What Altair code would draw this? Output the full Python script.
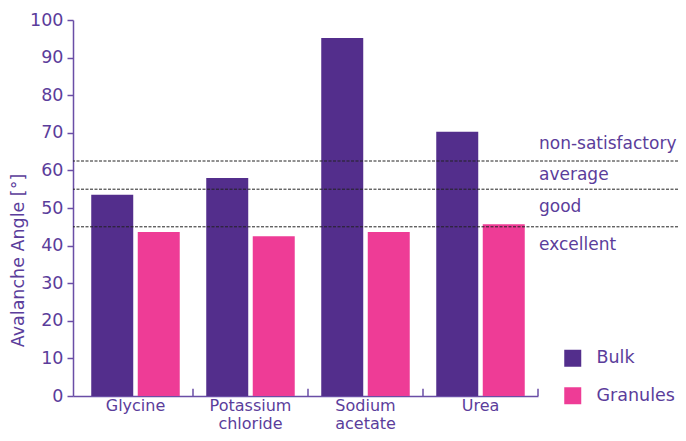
import altair as alt
import pandas as pd

categories = ["Glycine", "Potassium chloride", "Sodium acetate", "Urea"]
bulk = [53.5, 58.0, 95.2, 70.3]
granules = [43.6, 42.5, 43.6, 45.7]
series = ["Bulk", "Granules"]
colors = ["#532e8c", "#ee3c96"]
y_ticks = [0, 10, 20, 30, 40, 50, 60, 70, 80, 90, 100]

thresholds = [62.5, 55.0, 45.0]
class_labels = ["non-satisfactory", "average", "good", "excellent"]
class_label_pos = [67.0, 58.7, 50.2, 40.1]

FONT = "DejaVu Sans"
TXT = "#5b3d9b"
AX = "#6a4ea6"
FS = 17.5

rows = []
for c, b, g in zip(categories, bulk, granules):
    rows.append({"cat": c, "series": "Bulk", "v": b})
    rows.append({"cat": c, "series": "Granules", "v": g})
df = pd.DataFrame(rows)

W, H = 605, 376

xscale = alt.Scale(domain=categories, range=[0, 465], paddingInner=0, paddingOuter=0.0217, align=1)
yscale = alt.Scale(domain=[0, 100], nice=False)

xaxis = alt.Axis(title=None, ticks=False, labelExpr="split(datum.label, ' ')",
                 labelAngle=0, labelFont=FONT, labelFontSize=16, labelColor=TXT,
                 labelLineHeight=18.7, labelPadding=1, domainColor=AX, domainWidth=1.5,
                 labelBaseline="top")
yaxis = alt.Axis(title="Avalanche Angle [°]", values=y_ticks,
                 grid=False, tickSize=6, tickColor=AX, tickWidth=1.5,
                 domainColor=AX, domainWidth=1.5, labelPadding=4, labelOverlap=False,
                 labelFont=FONT, labelFontSize=FS, labelColor=TXT,
                 titleFont=FONT, titleFontSize=FS, titleColor=TXT, titleFontWeight="normal",
                 titleAngle=-90, titleX=-55, titleY=240, titleAlign="center",
                 titleBaseline="middle")

bars = alt.Chart(df).mark_bar().encode(
    x=alt.X("cat:N", scale=xscale, sort=categories, axis=xaxis),
    xOffset=alt.XOffset("series:N", scale=alt.Scale(domain=series, paddingInner=0.097, paddingOuter=0.285)),
    y=alt.Y("v:Q", scale=yscale, axis=yaxis),
    color=alt.Color("series:N", scale=alt.Scale(domain=series, range=colors),
                    legend=alt.Legend(title=None, orient="none", legendX=491, legendY=329.5,
                                      symbolType="square", symbolSize=289, symbolStrokeWidth=0,
                                      labelFont=FONT, labelFontSize=FS, labelColor=TXT,
                                      labelOffset=15, rowPadding=18.5, padding=0)),
)

tick_df = pd.DataFrame({"cat": categories, "y0": [0] * 4, "y1": [1.9] * 4})
xticks = alt.Chart(tick_df).mark_rule(color=AX, strokeWidth=1.5).encode(
    x=alt.X("cat:N", scale=xscale, sort=categories, bandPosition=1, axis=xaxis),
    y=alt.Y("y0:Q", scale=yscale, axis=yaxis),
    y2="y1:Q",
)

rule_df = pd.DataFrame({"t": thresholds})
rules = alt.Chart(rule_df).mark_rule(color="#222222", strokeWidth=1, strokeDash=[3, 1.5]).encode(
    y=alt.Y("t:Q", scale=yscale, axis=yaxis)
)

lab_df = pd.DataFrame({"lab": class_labels, "pos": class_label_pos})
labels = alt.Chart(lab_df).mark_text(align="left", baseline="middle", font=FONT, fontSize=17,
                                     color=TXT).encode(
    x=alt.value(466),
    y=alt.Y("pos:Q", scale=yscale, axis=yaxis),
    text="lab:N",
)

chart = alt.layer(bars, xticks, rules, labels).properties(
    width=W, height=H,
    autosize=alt.AutoSizeParams(type="none"),
    padding={"left": 65, "top": 12, "right": 0, "bottom": 37},
).configure_view(stroke=None)

chart.save("out.html", embed_options={"renderer": "svg", "actions": False})
